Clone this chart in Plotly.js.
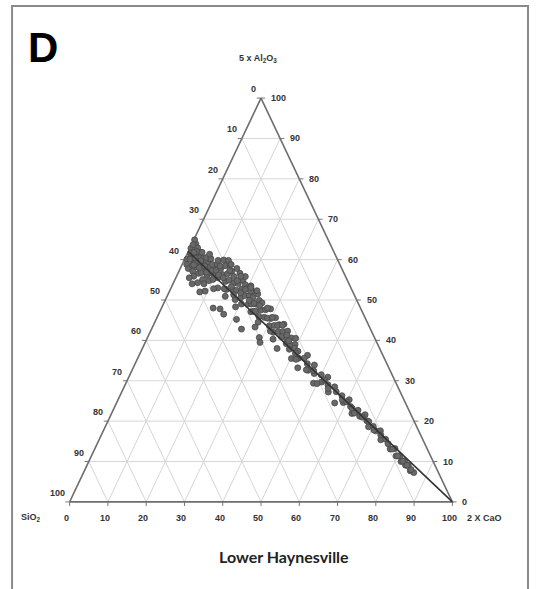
<!DOCTYPE html>
<html><head><meta charset="utf-8">
<script src="https://cdn.plot.ly/plotly-3.0.1.min.js"></script>
<style>html,body{margin:0;padding:0;background:#fff;}#chart{width:536px;height:589px;}</style>
</head><body><div id="chart"></div>
<script>
// Sample compositions (normalised %, SiO2 : 5xAl2O3 : 2xCaO)
const sio2 = [
36.9,39.3,37.7,40.0,36.0,38.1,40.1,36.5,38.7,35.1,37.1,39.3,35.6,37.6,39.6,34.8,36.6,38.0,35.5,37.2,39.4,34.4,35.6,37.7,34.4,36.0,37.9,33.3,34.7,36.2,38.5,33.8,35.0,35.1,35.1,41.0,41.0,33.3,40.0,34.9,
35.9,37.5,38.5,35.8,37.0,38.2,34.5,35.9,37.1,34.0,35.5,33.0,35.8,33.3,34.2,32.0,33.0,36.6,32.7,31.3,
29.8,31.6,33.5,30.1,31.9,34.8,28.7,30.5,32.0,29.1,30.9,32.8,29.2,36.8,30.0,27.2,31.0,28.9,30.2,27.3,31.7,28.7,27.2,30.1,27.4,28.7,25.9,33.8,27.5,26.1,28.8,26.8,28.0,25.1,29.1,26.8,25.5,38.5,36.5,33.7,
31.5,33.0,28.6,32.1,29.5,33.2,27.4,31.1,28.8,31.5,26.2,29.4,27.8,30.6,26.6,28.1,24.9,27.2,28.4,36.0,33.9,32.5,28.4,27.3,26.1,
27.8,25.1,26.3,29.9,25.0,26.3,23.6,30.1,24.8,26.0,23.4,24.7,25.8,23.3,24.4,22.0,23.2,26.8,21.9,23.1,23.8,21.8,22.9,20.7,21.6,30.5,
26.1,27.6,24.3,25.6,24.2,26.4,23.8,22.5,24.2,22.6,22.8,23.7,22.2,28.5,26.7,
24.3,21.7,22.4,23.8,19.7,20.8,21.4,19.1,20.2,21.6,18.5,19.3,17.1,18.0,18.8,16.5,16.7,18.5,
22.6,23.2,20.9,21.8,20.0,20.5,18.3,18.4,
15.7,16.2,14.3,14.8,15.3,13.3,13.6,12.0,12.3,12.6,11.3,11.2,10.0,11.0,9.7,
16.1,15.2,14.6,14.6,13.0,11.9,11.6,10.4,
9.6,9.7,8.4,9.0,8.0,8.4,7.4,7.7,7.0,7.1,6.4,
9.1,8.6,7.9,7.3,6.8];
const al2o3 = [
62.8,60.1,61.4,58.8,62.5,60.1,57.8,61.1,58.6,61.9,59.6,57.1,60.5,58.2,55.9,60.4,58.3,56.6,58.8,56.8,54.3,59.0,57.5,55.1,58.1,56.2,54.0,58.3,56.6,54.8,52.2,56.6,55.1,63.9,62.9,55.5,54.0,60.2,52.0,64.9,
63.7,61.7,60.1,62.0,60.4,58.7,61.8,59.7,58.0,60.5,58.4,60.2,56.9,58.8,57.3,58.9,57.3,61.8,61.2,59.8,
59.9,57.8,55.5,58.5,56.3,53.0,58.7,56.5,54.6,57.1,54.9,52.6,55.8,47.8,54.2,56.6,52.4,54.1,52.4,54.9,50.1,52.7,53.8,50.5,52.8,51.1,53.5,45.2,51.1,52.1,49.0,50.6,49.0,51.5,47.1,49.0,49.9,48.0,46.5,42.8,
58.4,56.2,59.8,55.5,57.3,52.8,57.8,53.3,54.8,51.3,55.8,51.8,52.6,49.0,52.2,49.9,52.3,49.2,47.2,52.8,50.9,48.3,58.8,55.9,53.1,
47.2,49.3,47.5,43.3,47.6,45.7,47.8,40.7,45.4,43.6,45.6,43.7,42.0,43.9,42.2,44.0,42.2,38.0,42.3,40.5,39.2,40.6,38.9,40.5,39.0,39.5,
48.6,45.9,48.0,45.5,45.7,42.3,43.7,43.8,40.9,41.3,39.9,37.8,38.1,44.5,40.3,
35.5,37.3,35.6,33.2,36.3,34.2,32.6,33.9,31.8,29.4,31.5,29.7,30.9,29.0,27.2,28.5,27.3,24.5,
36.8,35.3,35.6,32.7,32.5,29.0,30.2,28.1,
26.3,24.6,25.3,23.6,21.9,22.7,21.2,21.6,20.1,18.6,18.7,17.6,17.6,15.4,15.5,
25.3,24.8,23.2,22.0,21.0,19.9,17.8,16.6,
14.4,13.1,13.2,11.4,11.4,10.0,10.2,9.1,9.0,7.7,7.2,
13.1,11.4,10.1,9.1,8.0];
const cao = [
0.3,0.6,0.9,1.2,1.5,1.8,2.1,2.4,2.7,3.0,3.3,3.6,3.9,4.2,4.5,4.8,5.1,5.4,5.7,6.0,6.3,6.6,6.9,7.2,7.5,7.8,8.1,8.4,8.7,9.0,9.3,9.6,9.9,1.0,2.0,3.5,5.0,6.5,8.0,0.2,
0.4,0.8,1.4,2.2,2.6,3.1,3.7,4.4,4.9,5.5,6.1,6.8,7.3,7.9,8.5,9.1,9.7,1.6,5.9,8.9,
10.3,10.6,11.0,11.4,11.8,12.2,12.6,13.0,13.4,13.8,14.2,14.6,15.0,15.4,15.8,16.2,16.6,17.0,17.4,17.8,18.2,18.6,19.0,19.4,19.8,20.2,20.6,21.0,21.4,21.8,22.2,22.6,23.0,23.4,23.8,24.2,24.6,13.5,17.0,23.5,
10.1,10.8,11.6,12.4,13.2,14.0,14.8,15.6,16.4,17.2,18.0,18.8,19.6,20.4,21.2,22.0,22.8,23.6,24.4,11.2,15.2,19.2,12.8,16.8,20.8,
25.0,25.6,26.2,26.8,27.4,28.0,28.6,29.2,29.8,30.4,31.0,31.6,32.2,32.8,33.4,34.0,34.6,35.2,35.8,36.4,37.0,37.6,38.2,38.8,39.4,30.0,
25.3,26.5,27.7,28.9,30.1,31.3,32.5,33.7,34.9,36.1,37.3,38.5,39.7,27.0,33.0,
40.2,41.0,42.0,43.0,44.0,45.0,46.0,47.0,48.0,49.0,50.0,51.0,52.0,53.0,54.0,55.0,56.0,57.0,
40.6,41.5,43.5,45.5,47.5,49.5,51.5,53.5,
58.0,59.2,60.4,61.6,62.8,64.0,65.2,66.4,67.6,68.8,70.0,71.2,72.4,73.6,74.8,
58.6,60.0,62.2,63.4,66.0,68.2,70.6,73.0,
76.0,77.2,78.4,79.6,80.6,81.6,82.4,83.2,84.0,84.8,85.6,
77.8,80.0,82.0,83.6,85.2];

// Mixing line end members
const lineSiO2 = [38, 0];
const lineAl2O3 = [62, 0];
const lineCaO = [0, 100];

const tickValues = [0,10,20,30,40,50,60,70,80,90,100];
const tickLabels = ['0','10','20','30','40','50','60','70','80','90','100'];

const panelLabel = 'D';
const chartTitle = 'Lower Haynesville';
const apexTitle = '5 x Al<sub>2</sub>O<sub>3</sub>';
const leftTitle = 'SiO<sub>2</sub>';
const rightTitle = '2 X CaO';

function tern(s, a, c) {
  const t = s + a + c;
  const A = 100 * a / t, C = 100 * c / t;
  return [C + A / 2, A];
}

// Grid
const gx = [], gy = [];
function seg(p, q) { gx.push(p[0], q[0], null); gy.push(p[1], q[1], null); }
tickValues.forEach(v => {
  if (v === 0 || v === 100) return;
  seg(tern(100 - v, v, 0), tern(0, v, 100 - v));      // constant Al2O3
  seg(tern(100 - v, 0, v), tern(0, 100 - v, v));      // constant CaO
  seg(tern(v, 100 - v, 0), tern(v, 0, 100 - v));      // constant SiO2
});

// Outline + tick marks
const ox = [], oy = [];
[tern(100,0,0), tern(0,0,100), tern(0,100,0), tern(100,0,0)].forEach(p => { ox.push(p[0]); oy.push(p[1]); });
const tx = [], ty = [];
tickValues.forEach(v => {
  const l = tern(v, 100 - v, 0); tx.push(l[0], l[0] - 1.1, null); ty.push(l[1], l[1], null);
  const r = tern(0, v, 100 - v); tx.push(r[0], r[0] + 1.1, null); ty.push(r[1], r[1], null);
  const b = tern(100 - v, 0, v); tx.push(b[0], b[0], null); ty.push(b[1], b[1] - 1, null);
});

const pts = sio2.map((s, i) => tern(s, al2o3[i], cao[i]));
const mix = lineSiO2.map((s, i) => tern(s, lineAl2O3[i], lineCaO[i]));

const traces = [
  {x: gx, y: gy, mode: 'lines', line: {color: '#d6d6d6', width: 1}, hoverinfo: 'skip'},
  {x: tx, y: ty, mode: 'lines', line: {color: '#777', width: 1}, hoverinfo: 'skip'},
  {x: ox, y: oy, mode: 'lines', line: {color: '#6e6e6e', width: 1.6}, hoverinfo: 'skip'},
  {x: pts.map(p => p[0]), y: pts.map(p => p[1]), mode: 'markers',
   marker: {size: 6, color: '#686868', line: {color: '#474747', width: 0.8}}},
  {x: mix.map(p => p[0]), y: mix.map(p => p[1]), mode: 'lines', line: {color: '#333', width: 1.6}}
];

const tickFont = {family: 'Liberation Sans, Arial, sans-serif', size: 9, color: '#333', weight: 'bold'};
const ann = [];
tickValues.forEach((v, i) => {
  const l = tern(v, 100 - v, 0);
  ann.push({x: l[0], y: l[1], text: tickLabels[i], showarrow: false, xanchor: 'right', yanchor: 'middle', xshift: -3, yshift: 9, font: tickFont});
  const r = tern(0, v, 100 - v);
  ann.push({x: r[0], y: r[1], text: tickLabels[i], showarrow: false, xanchor: 'left', yanchor: 'middle', xshift: 8, yshift: 0, font: tickFont});
  const b = tern(100 - v, 0, v);
  ann.push({x: b[0], y: b[1], text: tickLabels[i], showarrow: false, xanchor: 'center', yanchor: 'middle', xshift: -3, yshift: -16, font: tickFont});
});

// pixel -> paper helpers
const W = 536, H = 589, L = 62.36, T = 89.92, PW = 397.28, PH = 420.16;
const px = v => (v - L) / PW, py = v => (T + PH - v) / PH;

ann.push({xref: 'paper', yref: 'paper', x: px(258), y: py(58), text: apexTitle, showarrow: false, xanchor: 'center', yanchor: 'middle', font: tickFont});
ann.push({xref: 'paper', yref: 'paper', x: px(43), y: py(518), text: leftTitle, showarrow: false, xanchor: 'right', yanchor: 'middle', font: tickFont});
ann.push({xref: 'paper', yref: 'paper', x: px(465), y: py(518), text: rightTitle, showarrow: false, xanchor: 'left', yanchor: 'middle', font: tickFont});
ann.push({xref: 'paper', yref: 'paper', x: px(43), y: py(47), text: panelLabel, showarrow: false, xanchor: 'center', yanchor: 'middle',
  font: {family: 'Liberation Sans, Arial, sans-serif', size: 42, color: '#000', weight: 'bold'}});
ann.push({xref: 'paper', yref: 'paper', x: px(284), y: py(557), text: chartTitle, showarrow: false, xanchor: 'center', yanchor: 'middle',
  font: {family: 'Lato, Carlito, sans-serif', size: 16, color: '#222', weight: 'bold'}});

const layout = {
  width: W, height: H,
  margin: {l: L, r: W - L - PW, t: T, b: H - T - PH, pad: 0},
  paper_bgcolor: '#fff', plot_bgcolor: 'rgba(0,0,0,0)',
  showlegend: false,
  xaxis: {range: [-2, 102], visible: false, fixedrange: true},
  yaxis: {range: [-2, 102], visible: false, fixedrange: true},
  annotations: ann,
  shapes: [{type: 'rect', xref: 'paper', yref: 'paper', x0: px(12.5), x1: px(527.5), y0: py(620), y1: py(6),
    line: {color: '#8a8a8a', width: 2}, fillcolor: 'rgba(0,0,0,0)'}]
};

Plotly.newPlot('chart', traces, layout, {displayModeBar: false, staticPlot: true});
</script></body></html>
